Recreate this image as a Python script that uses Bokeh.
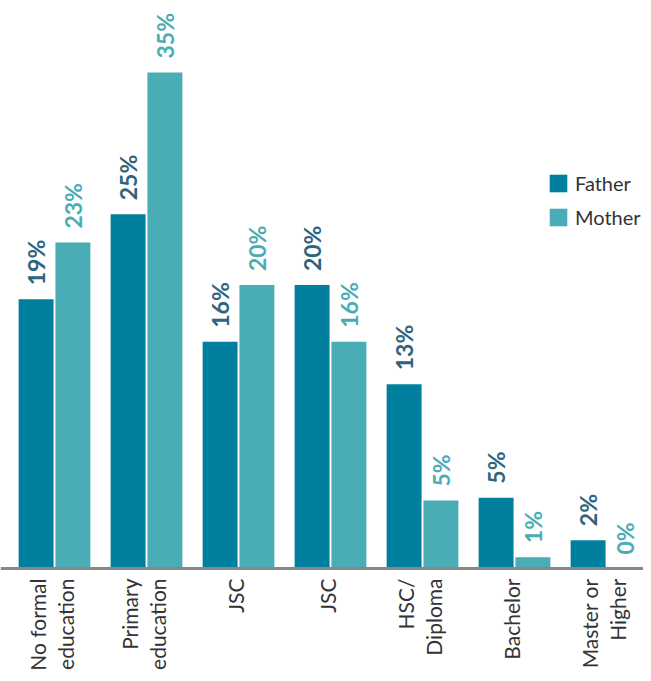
import numpy as np
from bokeh.plotting import figure
from bokeh.models import ColumnDataSource, Range1d, Span, Legend, LegendItem
from bokeh.core.properties import value
from bokeh.embed import file_html
from bokeh.resources import INLINE

categories = ["No formal\neducation", "Primary\neducation", "JSC", "JSC", "HSC/\nDiploma", "Bachelor", "Master or\nHigher"]
father = [19, 25, 16, 20, 13, 5, 2]
mother = [23, 35, 20, 16, 4.8, 0.8, 0]
father_labels = ["19%", "25%", "16%", "20%", "13%", "5%", "2%"]
mother_labels = ["23%", "35%", "20%", "16%", "5%", "1%", "0%"]

FATHER_C = "#00809e"
MOTHER_C = "#4aadb5"
FATHER_T = "#2e6480"

W, H = 643, 673
px_per_cat = 92.0
px_per_pct = 14.17
left_px = 8      # left edge of first category from plot left
base_px = 568    # baseline from top of plot

x = np.arange(len(categories)) + 0.5
src_f = ColumnDataSource(dict(x=x - 0.2, top=father, lab=father_labels))
src_m = ColumnDataSource(dict(x=x + 0.2, top=mother, lab=mother_labels))
src_c = ColumnDataSource(dict(x=x - 0.03, y=[0] * len(categories), lab=categories))

p = figure(width=W, height=H, output_backend="svg", toolbar_location=None,
           x_range=Range1d(-left_px / px_per_cat, (W - left_px) / px_per_cat),
           y_range=Range1d(-(H - base_px) / px_per_pct, base_px / px_per_pct),
           min_border=0)
p.outline_line_color = None
p.axis.visible = False
p.grid.visible = False
p.background_fill_color = "white"

rf = p.vbar(x="x", top="top", bottom=0, width=0.38, source=src_f, fill_color=FATHER_C, line_color=None)
rm = p.vbar(x="x", top="top", bottom=0, width=0.38, source=src_m, fill_color=MOTHER_C, line_color=None)

p.add_layout(Span(location=0, dimension="width", line_color="#888888", line_width=3))

for src, col in ((src_f, FATHER_T), (src_m, MOTHER_C)):
    p.text(x="x", y="top", text="lab", source=src, angle=np.pi / 2, text_align="left",
           text_baseline="middle", y_offset=-14, text_color=col,
           text_font=value("Lato"), text_font_style="bold", text_font_size="23px")

p.text(x="x", y="y", text="lab", source=src_c, angle=np.pi / 2, text_align="right",
       text_baseline="middle", y_offset=10, text_color="#333333", text_line_height=1.1,
       text_font=value("Lato"), text_font_size="21px")

legend = Legend(items=[LegendItem(label="Father", renderers=[rf]),
                       LegendItem(label="Mother", renderers=[rm])],
                location=(547, H - 175 - 54))
legend.glyph_width = 22
legend.glyph_height = 22
legend.label_text_font = "Lato"
legend.label_text_font_size = "20px"
legend.label_text_color = "#333333"
legend.label_standoff = 6
legend.spacing = 10
legend.padding = 0
legend.margin = 0
legend.border_line_alpha = 0
legend.background_fill_alpha = 0
p.add_layout(legend)

open("out.html", "w").write(file_html(p, INLINE))
